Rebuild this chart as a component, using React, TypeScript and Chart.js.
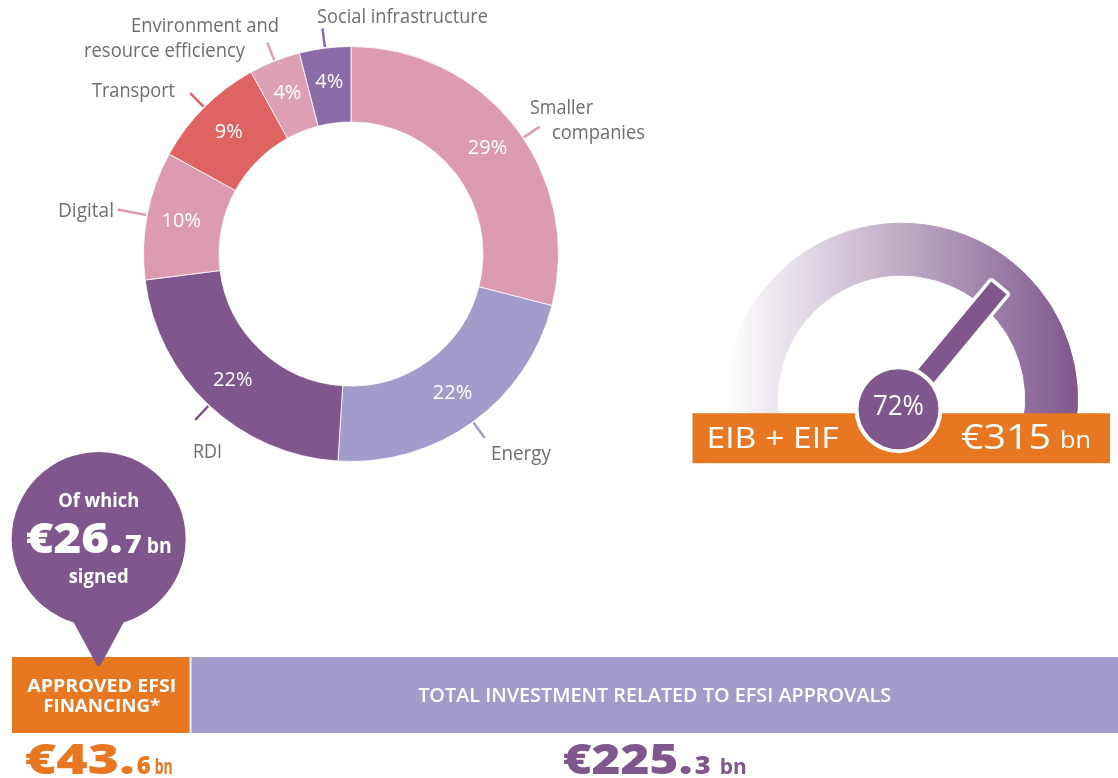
import React, { useEffect, useRef } from "react";
import { Chart, registerables } from "chart.js";

Chart.register(...registerables);

const PAGE_W = 1118;
const PAGE_H = 778;

// ---------- Data ----------
const sectorNames = [
  "Smaller companies",
  "Energy",
  "RDI",
  "Digital",
  "Transport",
  "Environment and resource efficiency",
  "Social infrastructure",
];
const sectorShares = [29, 22, 22, 10, 9, 4, 4];

const gaugeName = "EIB + EIF";
const gaugeShare = 72;
const gaugeAmount = 315;

const efsiCategories = ["APPROVED EFSI FINANCING*", "TOTAL INVESTMENT RELATED TO EFSI APPROVALS"];
const efsiAmounts = [43.6, 225.3];
const signedAmount = 26.7;

// ---------- Styles / layout ----------
const FONT = '"Open Sans", "DejaVu Sans", sans-serif';
const sectorColors = ["#DC9BB1", "#A29CCB", "#7F578D", "#DC9BB1", "#DF6363", "#DDA0B5", "#8B6CA6"];
const LABEL_GREY = "#6D6E71";
const ORANGE = "#E87722";
const PURPLE = "#7F578D";
const LAVENDER = "#A29CCB";

// per sector: words on first line, [x(left), baseline, width] per line, tick settings
const sectorLabelLayout: { firstLineWords?: number; lines: number[][]; tickAngleDeg?: number; tickOut?: number }[] = [
  { firstLineWords: 1, lines: [[530, 114, 63], [552, 139, 93]], tickAngleDeg: 56 },
  { lines: [[491, 460, 60]] },
  { lines: [[193, 458, 29]] },
  { lines: [[58, 217, 56]], tickOut: 30 },
  { lines: [[92, 97, 83]] },
  { firstLineWords: 2, lines: [[131, 32, 148], [84, 57, 161]] },
  { lines: [[317, 23, 171]] },
];

function fitText(ctx: CanvasRenderingContext2D, text: string, x: number, y: number, width: number, align = "left") {
  const w = ctx.measureText(text).width || 1;
  const left = align === "center" ? x - width / 2 : align === "right" ? x - width : x;
  ctx.save();
  ctx.textAlign = "left";
  ctx.translate(left, y);
  ctx.scale(width / w, 1);
  ctx.fillText(text, 0, 0);
  ctx.restore();
}

type Part = { text: string; font: string; width: number; gap?: number };

function richText(ctx: CanvasRenderingContext2D, parts: Part[], cx: number, baseline: number, color: string) {
  const total = parts.reduce((s, p) => s + p.width + (p.gap || 0), 0);
  let x = cx - total / 2;
  ctx.fillStyle = color;
  ctx.textBaseline = "alphabetic";
  for (const p of parts) {
    x += p.gap || 0;
    ctx.font = p.font;
    fitText(ctx, p.text, x, baseline, p.width);
    x += p.width;
  }
}

function moneyParts(v: number, widths: number[], gaps: number[]): Part[] {
  const whole = Math.floor(v);
  const dec = Math.round((v - whole) * 10);
  return [
    { text: `€${whole}.`, font: `800 43px ${FONT}`, width: widths[0] },
    { text: `${dec}`, font: `800 25px ${FONT}`, width: widths[1], gap: gaps[0] },
    { text: "bn", font: `bold 21px ${FONT}`, width: widths[2], gap: gaps[1] },
  ];
}

function splitLines(text: string, firstLineWords?: number): string[] {
  if (!firstLineWords) return [text];
  const words = text.split(" ");
  return [words.slice(0, firstLineWords).join(" "), words.slice(firstLineWords).join(" ")];
}

// ---------- Plugins ----------
const donutLabelsPlugin = {
  id: "donutLabels",
  afterDatasetsDraw(chart: any) {
    const ctx: CanvasRenderingContext2D = chart.ctx;
    const meta = chart.getDatasetMeta(0);
    ctx.save();
    meta.data.forEach((arc: any, i: number) => {
      const { x, y, startAngle, endAngle, innerRadius, outerRadius } = arc.getProps(
        ["x", "y", "startAngle", "endAngle", "innerRadius", "outerRadius"],
        true
      );
      const mid = (startAngle + endAngle) / 2;
      const r = (innerRadius + outerRadius) / 2 + 3;
      ctx.font = `20px ${FONT}`;
      ctx.fillStyle = "#FFFFFF";
      ctx.textAlign = "center";
      ctx.textBaseline = "middle";
      ctx.fillText(`${sectorShares[i]}%`, x + Math.cos(mid) * r, y + Math.sin(mid) * r);

      const L = sectorLabelLayout[i];
      const ang = L.tickAngleDeg !== undefined ? ((L.tickAngleDeg - 90) * Math.PI) / 180 : mid;
      const r0 = outerRadius + 1;
      const r1 = outerRadius + (L.tickOut || 20);
      ctx.strokeStyle = sectorColors[i];
      ctx.lineWidth = 2.5;
      ctx.beginPath();
      ctx.moveTo(x + Math.cos(ang) * r0, y + Math.sin(ang) * r0);
      ctx.lineTo(x + Math.cos(ang) * r1, y + Math.sin(ang) * r1);
      ctx.stroke();

      ctx.fillStyle = LABEL_GREY;
      ctx.font = `20px ${FONT}`;
      ctx.textBaseline = "alphabetic";
      const lines = splitLines(sectorNames[i], L.firstLineWords);
      lines.forEach((t, k) => {
        const [lx, ly, w] = L.lines[k];
        fitText(ctx, t, lx, ly, w, "left");
      });
    });
    ctx.restore();
  },
};

const gaugePlugin = {
  id: "gaugeDecor",
  afterDatasetsDraw(chart: any) {
    const ctx: CanvasRenderingContext2D = chart.ctx;
    const arc = chart.getDatasetMeta(0).data[0];
    const cx = arc.x;
    const cy = arc.y;
    const px = cx - 3;
    const py = cy + 10;
    const ang = Math.PI + (gaugeShare / 100) * Math.PI;
    ctx.save();
    // needle
    ctx.save();
    ctx.translate(px, py);
    ctx.rotate(ang);
    ctx.fillStyle = "#FFFFFF";
    ctx.beginPath();
    (ctx as any).roundRect(0, -13.5, 161, 27, 4);
    ctx.fill();
    ctx.fillStyle = PURPLE;
    ctx.fillRect(0, -10, 157.5, 20);
    ctx.restore();

    // orange band
    const barLeft = cx - 209;
    const barRight = cx + 208.5;
    const barTop = cy + 14;
    ctx.fillStyle = ORANGE;
    ctx.fillRect(barLeft, barTop, barRight - barLeft, 50);

    // hub
    ctx.fillStyle = "#FFFFFF";
    ctx.beginPath();
    ctx.arc(px, py, 44, 0, Math.PI * 2);
    ctx.fill();
    ctx.fillStyle = PURPLE;
    ctx.beginPath();
    ctx.arc(px, py, 40, 0, Math.PI * 2);
    ctx.fill();

    ctx.fillStyle = "#FFFFFF";
    ctx.textBaseline = "alphabetic";
    ctx.font = `27px ${FONT}`;
    fitText(ctx, `${gaugeShare}%`, px, py + 6, 51, "center");

    ctx.font = `29px ${FONT}`;
    fitText(ctx, gaugeName, barLeft + 14, barTop + 35, 132, "left");
    ctx.font = `35px ${FONT}`;
    fitText(ctx, `€${gaugeAmount}`, barRight - 149, barTop + 36, 90, "left");
    ctx.font = `24px ${FONT}`;
    fitText(ctx, "bn", barRight - 50, barTop + 35, 31, "left");
    ctx.restore();
  },
};

const efsiPlugin = {
  id: "efsiDecor",
  afterDatasetsDraw(chart: any) {
    const ctx: CanvasRenderingContext2D = chart.ctx;
    const b0 = chart.getDatasetMeta(0).data[0];
    const b1 = chart.getDatasetMeta(1).data[0];
    const c0 = (b0.base + b0.x) / 2;
    const c1 = (b1.base + b1.x) / 2;
    const top = b0.y - b0.height / 2;
    const bottom = b0.y + b0.height / 2;
    ctx.save();

    // speech bubble
    const bx = c0 - 3;
    const by = top - 118;
    ctx.fillStyle = PURPLE;
    ctx.beginPath();
    ctx.arc(bx, by, 87, 0, Math.PI * 2);
    ctx.fill();
    const tipY = top + 9;
    const y0 = by + 55;
    const hw = (tipY - y0) * 0.56;
    ctx.beginPath();
    ctx.moveTo(bx - hw, y0);
    ctx.lineTo(bx - 2, tipY - 1);
    ctx.quadraticCurveTo(bx, tipY + 1, bx + 2, tipY - 1);
    ctx.lineTo(bx + hw, y0);
    ctx.closePath();
    ctx.fill();

    ctx.fillStyle = "#FFFFFF";
    ctx.textBaseline = "alphabetic";
    ctx.font = `bold 19px ${FONT}`;
    fitText(ctx, "Of which", bx, by - 32, 81, "center");
    richText(ctx, moneyParts(signedAmount, [97, 17, 25], [2, 5]), bx, by + 14, "#FFFFFF");
    ctx.fillStyle = "#FFFFFF";
    ctx.font = `bold 19px ${FONT}`;
    fitText(ctx, "signed", bx, by + 44, 60, "center");

    // bar captions
    ctx.font = `bold 17px ${FONT}`;
    const l0 = splitLines(efsiCategories[0], 2);
    fitText(ctx, l0[0], c0, top + 35, 149, "center");
    fitText(ctx, l0[1], c0, top + 55, 117, "center");
    ctx.font = `600 19px ${FONT}`;
    fitText(ctx, efsiCategories[1], c1, top + 45, 473, "center");

    // amounts under bars
    richText(ctx, moneyParts(efsiAmounts[0], [110, 14, 18], [2, 4]), c0 - 3, bottom + 41, ORANGE);
    richText(ctx, moneyParts(efsiAmounts[1], [130, 16, 27], [2, 9]), c1, bottom + 41, PURPLE);
    ctx.restore();
  },
};

const gaugeFill = (c: any) => {
  const a = c.chart.chartArea;
  if (!a) return "#B9A5C4";
  const g = c.chart.ctx.createLinearGradient(a.left, 0, a.right, 0);
  g.addColorStop(0, "#FFFFFF");
  g.addColorStop(1, PURPLE);
  return g;
};

export default function App() {
  const donutRef = useRef<HTMLCanvasElement>(null);
  const gaugeRef = useRef<HTMLCanvasElement>(null);
  const barRef = useRef<HTMLCanvasElement>(null);

  useEffect(() => {
    const charts: Chart[] = [];

    // Donut: centre (351, 254), radius 207.5
    charts.push(
      new Chart(donutRef.current as HTMLCanvasElement, {
        type: "doughnut",
        data: {
          labels: sectorNames,
          datasets: [
            {
              data: sectorShares,
              backgroundColor: sectorColors,
              borderColor: "#FFFFFF",
              borderWidth: 0.8,
              hoverOffset: 0,
            },
          ],
        },
        options: {
          responsive: false,
          animation: false,
          events: [],
          radius: 207.5,
          cutout: "63.6%",
          layout: { padding: { left: 143, top: 46, right: PAGE_W - 143 - 416, bottom: PAGE_H - 46 - 416 } },
          plugins: { legend: { display: false }, tooltip: { enabled: false } },
        } as any,
        plugins: [donutLabelsPlugin],
      })
    );

    // Gauge
    charts.push(
      new Chart(gaugeRef.current as HTMLCanvasElement, {
        type: "doughnut",
        data: {
          labels: [gaugeName, "Other"],
          datasets: [
            {
              data: [gaugeShare, 100 - gaugeShare],
              backgroundColor: gaugeFill,
              borderColor: gaugeFill,
              borderWidth: 1,
              hoverOffset: 0,
            },
          ],
        },
        options: {
          responsive: false,
          animation: false,
          events: [],
          rotation: -100,
          circumference: 200,
          radius: 176,
          cutout: "70.5%",
          layout: { padding: { left: 725, right: PAGE_W - 1078, top: 222, bottom: PAGE_H - 431 } },
          plugins: { legend: { display: false }, tooltip: { enabled: false } },
        } as any,
        plugins: [gaugePlugin],
      })
    );

    // EFSI bars
    charts.push(
      new Chart(barRef.current as HTMLCanvasElement, {
        type: "bar",
        data: {
          labels: ["EFSI"],
          datasets: [
            {
              label: efsiCategories[0],
              data: [efsiAmounts[0]],
              backgroundColor: ORANGE,
              borderColor: "#FFFFFF",
              borderWidth: { top: 0, bottom: 0, left: 0, right: 2 },
              borderSkipped: false,
              barPercentage: 1,
              categoryPercentage: 1,
            },
            {
              label: efsiCategories[1],
              data: [efsiAmounts[1]],
              backgroundColor: LAVENDER,
              borderWidth: 0,
              barPercentage: 1,
              categoryPercentage: 1,
            },
          ],
        },
        options: {
          responsive: false,
          animation: false,
          events: [],
          indexAxis: "y",
          scales: {
            x: { stacked: true, display: false, min: 0, max: efsiAmounts[0] + efsiAmounts[1] },
            y: { stacked: true, display: false },
          },
          layout: { padding: { left: 12, right: 0, top: 657, bottom: PAGE_H - 733 } },
          plugins: { legend: { display: false }, tooltip: { enabled: false } },
        } as any,
        plugins: [efsiPlugin],
      })
    );

    return () => charts.forEach((c) => c.destroy());
  }, []);

  const canvasStyle: React.CSSProperties = { position: "absolute", left: 0, top: 0, width: PAGE_W, height: PAGE_H };
  return (
    <div style={{ position: "absolute", left: 0, top: 0, width: PAGE_W, height: PAGE_H, background: "#FFFFFF", overflow: "hidden" }}>
      <canvas ref={donutRef} width={PAGE_W} height={PAGE_H} style={canvasStyle} />
      <canvas ref={gaugeRef} width={PAGE_W} height={PAGE_H} style={canvasStyle} />
      <canvas ref={barRef} width={PAGE_W} height={PAGE_H} style={canvasStyle} />
    </div>
  );
}
